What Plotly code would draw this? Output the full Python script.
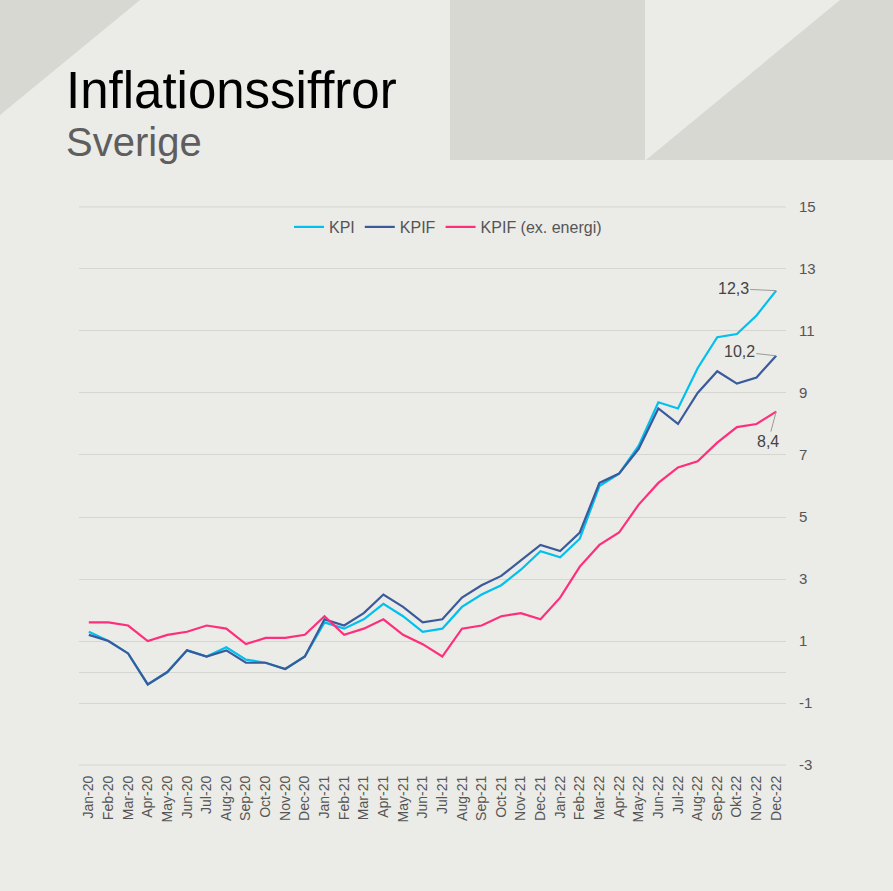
import plotly.graph_objects as go

months = ["Jan-20","Feb-20","Mar-20","Apr-20","May-20","Jun-20","Jul-20","Aug-20","Sep-20","Oct-20","Nov-20","Dec-20",
          "Jan-21","Feb-21","Mar-21","Apr-21","May-21","Jun-21","Jul-21","Aug-21","Sep-21","Oct-21","Nov-21","Dec-21",
          "Jan-22","Feb-22","Mar-22","Apr-22","May-22","Jun-22","Jul-22","Aug-22","Sep-22","Okt-22","Nov-22","Dec-22"]

kpi = [1.3, 1.0, 0.6, -0.4, 0.0, 0.7, 0.5, 0.8, 0.4, 0.3, 0.1, 0.5,
       1.6, 1.4, 1.7, 2.2, 1.8, 1.3, 1.4, 2.1, 2.5, 2.8, 3.3, 3.9,
       3.7, 4.3, 6.0, 6.4, 7.3, 8.7, 8.5, 9.8, 10.8, 10.9, 11.5, 12.3]

kpif = [1.2, 1.0, 0.6, -0.4, 0.0, 0.7, 0.5, 0.7, 0.3, 0.3, 0.1, 0.5,
        1.7, 1.5, 1.9, 2.5, 2.1, 1.6, 1.7, 2.4, 2.8, 3.1, 3.6, 4.1,
        3.9, 4.5, 6.1, 6.4, 7.2, 8.5, 8.0, 9.0, 9.7, 9.3, 9.5, 10.2]

kpif_ex = [1.6, 1.6, 1.5, 1.0, 1.2, 1.3, 1.5, 1.4, 0.9, 1.1, 1.1, 1.2,
           1.8, 1.2, 1.4, 1.7, 1.2, 0.9, 0.5, 1.4, 1.5, 1.8, 1.9, 1.7,
           2.4, 3.4, 4.1, 4.5, 5.4, 6.1, 6.6, 6.8, 7.4, 7.9, 8.0, 8.4]

series_names = ["KPI", "KPIF", "KPIF (ex. energi)"]
series_colors = ["#00C0EE", "#3A5A9C", "#FF2E7D"]
y_ticks = [-3, -1, 1, 3, 5, 7, 9, 11, 13, 15]

W, H = 893, 891
L, R, T, B = 79, 107, 206, 125
PW, PH = W - L - R, H - T - B
Y_RANGE = [-3.03, 15.03]

def px_x(px):
    return (px - L) / PW

def px_y(py):
    return (H - B - py) / PH

BG = "#EBEBE7"
DECO = "#D7D8D2"
GRID = "#D6D6D1"

fig = go.Figure()
for name, vals, col in zip(series_names, [kpi, kpif, kpif_ex], series_colors):
    fig.add_trace(go.Scatter(x=months, y=vals, name=name, mode="lines",
                             line=dict(color=col, width=2.2)))

shapes = [
    dict(type="path", xref="paper", yref="paper", layer="below", line=dict(width=0), fillcolor=DECO,
         path=f"M {px_x(0)},{px_y(0)} L {px_x(140)},{px_y(0)} L {px_x(0)},{px_y(115)} Z"),
    dict(type="rect", xref="paper", yref="paper", layer="below", line=dict(width=0), fillcolor=DECO,
         x0=px_x(450), x1=px_x(645), y0=px_y(160), y1=px_y(0)),
    dict(type="path", xref="paper", yref="paper", layer="below", line=dict(width=0), fillcolor=DECO,
         path=f"M {px_x(646)},{px_y(160)} L {px_x(840)},{px_y(0)} L {px_x(893)},{px_y(0)} L {px_x(893)},{px_y(160)} Z"),
]
# edge gridlines (plotly omits gridlines on the plot-area border)
for edge in (y_ticks[0], y_ticks[-1]):
    shapes.append(dict(type="line", xref="paper", yref="y", x0=0, x1=1, y0=edge, y1=edge,
                       layer="below", line=dict(color=GRID, width=1)))

annotations = [
    dict(text="Inflationssiffror", xref="paper", yref="paper", x=px_x(64), y=px_y(90),
         xanchor="left", yanchor="middle", showarrow=False,
         font=dict(family="Liberation Sans, Arial", size=51, color="#000000")),
    dict(text="Sverige", xref="paper", yref="paper", x=px_x(64), y=px_y(142),
         xanchor="left", yanchor="middle", showarrow=False,
         font=dict(family="Liberation Sans, Arial", size=40, color="#5E5E5E")),
]

label_offsets = [(-43, -2), (-37, -4), (-8, 30)]
for vals, (ax, ay) in zip([kpi, kpif, kpif_ex], label_offsets):
    annotations.append(dict(
        x=months[-1], y=vals[-1], xref="x", yref="y",
        text=f"{vals[-1]:.1f}".replace(".", ","),
        showarrow=True, arrowhead=0, arrowwidth=1, arrowcolor="#9A9A9A",
        ax=ax, ay=ay, standoff=0,
        font=dict(family="Liberation Sans, Arial", size=16, color="#444444")))

fig.update_layout(
    width=W, height=H,
    margin=dict(l=L, r=R, t=T, b=B, autoexpand=False),
    paper_bgcolor=BG, plot_bgcolor=BG,
    font=dict(family="Liberation Sans, Arial", color="#555555"),
    showlegend=True,
    legend=dict(orientation="h", xref="paper", yref="paper",
                x=px_x(448), xanchor="center", y=px_y(227), yanchor="middle",
                font=dict(size=16, color="#555555"), bgcolor="rgba(0,0,0,0)",
                itemwidth=30, tracegroupgap=0),
    shapes=shapes,
    annotations=annotations,
    xaxis=dict(type="category", range=[-0.5, len(months) - 0.5], showgrid=False,
               showline=False, zeroline=False, ticks="", tickangle=-90,
               tickfont=dict(size=14, color="#555555"), ticklabelstandoff=6),
    yaxis=dict(side="right", range=Y_RANGE, tickvals=y_ticks, ticktext=[str(v) for v in y_ticks],
               showgrid=True, gridcolor=GRID, gridwidth=1,
               zeroline=True, zerolinecolor=GRID, zerolinewidth=1,
               showline=False, ticks="", tickfont=dict(size=15, color="#555555"),
               ticklabelstandoff=12),
)

fig.write_html("out.html")
